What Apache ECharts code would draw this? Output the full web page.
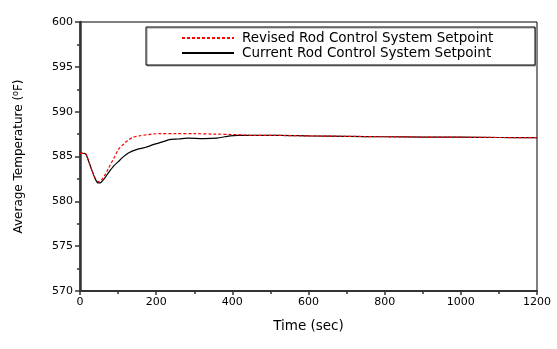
<!DOCTYPE html>
<html>
<head>
<meta charset="utf-8">
<script src="https://cdn.jsdelivr.net/npm/echarts@6/dist/echarts.min.js"></script>
<style>
  html, body { margin: 0; padding: 0; background: #fff; }
  #chart { width: 557px; height: 349px; }
</style>
</head>
<body>
<div id="chart"></div>
<script>
// 图表数据
var seriesNames = ["Revised Rod Control System Setpoint", "Current Rod Control System Setpoint"];

var timeRevised = [0, 10, 15, 20, 30, 40, 48, 55, 65, 75, 90, 101, 115, 127, 140, 155, 171, 190, 210, 250, 300, 350, 400, 430, 460, 500, 600, 700, 800, 900, 1000, 1100, 1200];
var tempRevised = [585.35, 585.35, 585.3, 584.8, 583.6, 582.6, 582.2, 582.3, 582.9, 583.7, 584.9, 585.8, 586.4, 586.85, 587.15, 587.3, 587.4, 587.5, 587.55, 587.55, 587.55, 587.5, 587.45, 587.4, 587.35, 587.35, 587.3, 587.25, 587.2, 587.17, 587.15, 587.12, 587.1];

var timeCurrent = [0, 10, 15, 20, 30, 40, 48, 55, 65, 75, 90, 100, 112, 127, 150, 171, 194, 215, 238, 259, 281, 325, 360, 380, 395, 413, 450, 526, 600, 700, 800, 900, 1000, 1100, 1200];
var tempCurrent = [585.35, 585.35, 585.3, 584.8, 583.6, 582.5, 582.05, 582.1, 582.6, 583.2, 584.0, 584.4, 584.9, 585.4, 585.8, 586.0, 586.35, 586.6, 586.9, 586.95, 587.05, 587.0, 587.05, 587.2, 587.3, 587.35, 587.35, 587.35, 587.3, 587.25, 587.2, 587.17, 587.15, 587.12, 587.1];

var xTicks = { min: 0, max: 1200, interval: 200 };
var yTicks = { min: 570, max: 600, interval: 5 };

function pairs(xs, ys) {
  return xs.map(function (x, i) { return [x, ys[i]]; });
}

var chart = echarts.init(document.getElementById("chart"));
var font = "DejaVu Sans";

chart.setOption({
  animation: false,
  backgroundColor: "#fff",
  grid: {
    left: 80, right: 20, top: 22, bottom: 58,
    show: true, borderColor: "#000", borderWidth: 1
  },
  legend: {
    left: 181, top: 31, padding: 0,
    orient: "vertical",
    itemWidth: 52, itemHeight: 14, itemGap: 1,
    itemStyle: { opacity: 0 },
    textStyle: { fontFamily: font, fontSize: 13.5, color: "#000", padding: [0, 0, 0, 3] },
    data: seriesNames
  },
  graphic: [{
    type: "rect",
    shape: { x: 146, y: 27, width: 389, height: 38 },
    style: { fill: "#fff", stroke: "#000", lineWidth: 1, shadowColor: "#999", shadowOffsetX: 1, shadowOffsetY: 1 },
    z: 0
  }],
  xAxis: {
    type: "value",
    min: xTicks.min, max: xTicks.max, interval: xTicks.interval,
    name: "Time (sec)", nameLocation: "middle", nameGap: 28,
    nameTextStyle: { fontFamily: font, fontSize: 13.5, color: "#000" },
    axisLine: { show: true, lineStyle: { color: "#333", width: 2 } },
    axisTick: { show: true, inside: false, length: 4, lineStyle: { color: "#333", width: 1.5 } },
    minorTick: { show: true, splitNumber: 2, length: 3, lineStyle: { color: "#333", width: 1.5 } },
    axisLabel: { fontFamily: font, fontSize: 11, color: "#000", margin: 6, formatter: function (v) { return String(v); } },
    splitLine: { show: false }
  },
  yAxis: {
    type: "value",
    min: yTicks.min, max: yTicks.max, interval: yTicks.interval,
    name: "{n|Average Temperature (}{s|o}{n|F)}", nameLocation: "middle", nameGap: 54,
    nameTextStyle: {
      fontFamily: font, fontSize: 12, color: "#000",
      rich: {
        n: { fontFamily: font, fontSize: 12, color: "#000" },
        s: { fontFamily: font, fontSize: 8, color: "#000", verticalAlign: "top", padding: [0, 0, 6, 0] }
      }
    },
    axisLine: { show: true, lineStyle: { color: "#333", width: 2.5 } },
    axisTick: { show: true, inside: false, length: 5, lineStyle: { color: "#333", width: 1.5 } },
    minorTick: { show: true, splitNumber: 2, length: 3, lineStyle: { color: "#333", width: 1.5 } },
    axisLabel: { fontFamily: font, fontSize: 11, color: "#000", margin: 7 },
    splitLine: { show: false }
  },
  series: [
    {
      name: seriesNames[0],
      type: "line",
      data: pairs(timeRevised, tempRevised),
      showSymbol: false, symbol: "none",
      smooth: 0.3,
      lineStyle: { color: "#ff0000", width: 1.2, type: [3, 2] },
      itemStyle: { color: "#ff0000" },
      z: 3
    },
    {
      name: seriesNames[1],
      type: "line",
      data: pairs(timeCurrent, tempCurrent),
      showSymbol: false, symbol: "none",
      smooth: 0.3,
      lineStyle: { color: "#000", width: 1.2 },
      itemStyle: { color: "#000" },
      z: 2
    }
  ]
});
</script>
</body>
</html>
